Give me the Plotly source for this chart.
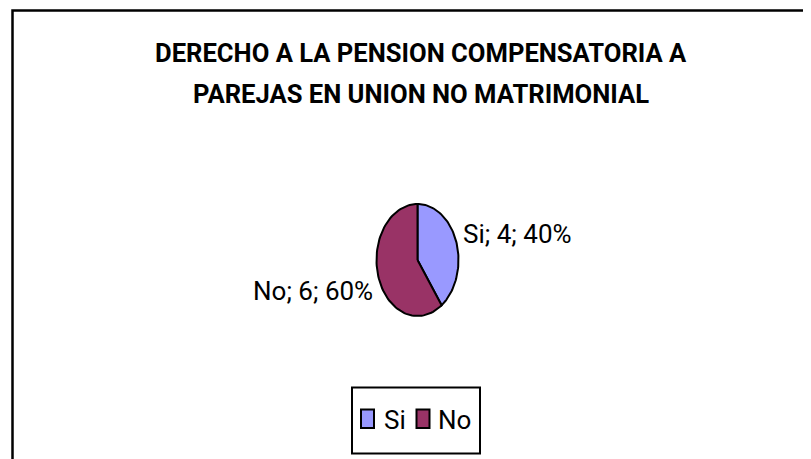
import numpy as np
import plotly.graph_objects as go

categories = ["Si", "No"]
values = [4, 6]
colors = ["#9999FF", "#993366"]
title_lines = ["DERECHO A LA PENSION COMPENSATORIA A",
               "PAREJAS EN UNION NO MATRIMONIAL"]

FONT = "Roboto, Liberation Sans, Arial"

# pie drawn as an ellipse (the original is squashed horizontally)
cx, cy, rx, ry = 417.5, 260, 41, 56
total = float(sum(values))
fracs = [v / total for v in values]

fig = go.Figure()
start = 0.0
for cat, val, frac, col in zip(categories, values, fracs, colors):
    end = start + frac * 2 * np.pi
    t = np.linspace(start, end, 80)
    xs = np.concatenate([[cx], cx + rx * np.sin(t), [cx]])
    ys = np.concatenate([[cy], cy - ry * np.cos(t), [cy]])
    fig.add_trace(go.Scatter(x=xs, y=ys, mode="lines", fill="toself",
                             fillcolor=col, line=dict(color="black", width=2),
                             name=cat, hoverinfo="skip", showlegend=False))
    start = end

# data labels "cat; value; pct"
lab_pos = [(461, 234, "left"), (375, 291, "right")]
for cat, val, frac, (lx, ly, anc) in zip(categories, values, fracs, lab_pos):
    fig.add_annotation(x=lx, y=ly, text=f"{cat}; {val}; {round(frac * 100)}%",
                       showarrow=False, xanchor=anc, yanchor="middle",
                       font=dict(family=FONT, size=26, color="black"))

# title, two lines
for line, ty in zip(title_lines, [53, 94]):
    fig.add_annotation(x=421, y=ty, text=line, showarrow=False, xanchor="center",
                       yanchor="middle",
                       font=dict(family=FONT, size=25.6, color="black", weight="bold"))

# outer border (cut off at right/bottom like the source)
fig.add_shape(type="rect", x0=12.5, y0=10.5, x1=840, y1=490,
              line=dict(color="black", width=2.5), fillcolor="rgba(0,0,0,0)")

# legend box
fig.add_shape(type="rect", x0=352, y0=387.5, x1=480, y1=453.5,
              line=dict(color="black", width=2), fillcolor="white")
leg_sq = [361, 416.5]
leg_tx = [382, 436]
for cat, col, sx, tx in zip(categories, colors, leg_sq, leg_tx):
    fig.add_shape(type="rect", x0=sx, y0=409.5, x1=sx + 13, y1=428,
                  line=dict(color="black", width=2), fillcolor=col)
    fig.add_annotation(x=tx, y=420, text=cat, showarrow=False, xanchor="left",
                       yanchor="middle", font=dict(family=FONT, size=26, color="black"))

# page body has an 8px margin, so shift ranges to keep page pixel == data unit
fig.update_xaxes(range=[8, 819], visible=False, fixedrange=True)
fig.update_yaxes(range=[467, 8], visible=False, fixedrange=True)
fig.update_layout(width=811, height=459, margin=dict(l=0, r=0, t=0, b=0),
                  paper_bgcolor="white", plot_bgcolor="white", showlegend=False)

fig.write_html("out.html")
